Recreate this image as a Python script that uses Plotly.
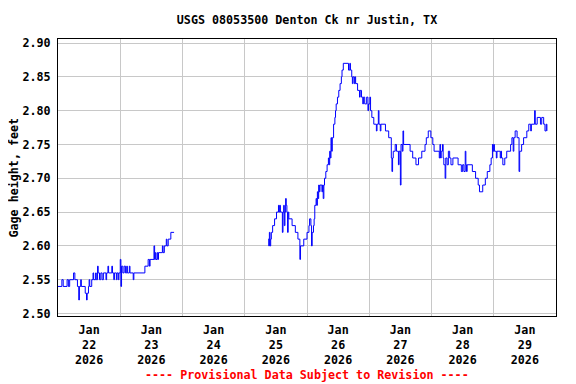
import pandas as pd
import plotly.graph_objects as go

# ---- data (hours after 2026-01-22 00:00, gage height in feet) ----
start_time = "2026-01-22 00:00"

seg1_hours = [0, 1.5, 2.0, 3.5, 4.0, 4.5, 6.0, 6.5, 7.5, 8.0,
              8.25, 8.75, 9.0, 10.5, 11.0, 11.25, 11.75, 12.0, 12.25, 13.0,
              13.5, 13.75, 14.5, 14.75, 15.25, 15.5, 16.0, 16.5, 17.0, 17.5,
              18.5, 18.75, 19.25, 19.5, 20.75, 21.0, 21.5, 21.75, 22.5, 22.75,
              23.25, 23.5, 24.0, 24.25, 24.5, 25.0, 25.5, 26.0, 26.5, 26.75,
              27.5, 27.75, 29.0, 29.25, 33.5, 34.75, 35.25, 35.5, 37.0, 37.25,
              37.5, 37.75, 38.25, 38.5, 38.75, 40.25, 40.5, 41.0, 41.75, 42.0,
              42.5, 43.5, 44.75]
seg1_values = [2.54, 2.55, 2.54, 2.55, 2.54, 2.55, 2.56, 2.55, 2.54, 2.52,
               2.54, 2.55, 2.54, 2.53, 2.52, 2.53, 2.54, 2.55, 2.54, 2.55,
               2.56, 2.55, 2.56, 2.55, 2.57, 2.56, 2.55, 2.56, 2.55, 2.56,
               2.55, 2.56, 2.57, 2.56, 2.57, 2.56, 2.55, 2.56, 2.55, 2.56,
               2.55, 2.56, 2.58, 2.54, 2.57, 2.56, 2.57, 2.56, 2.57, 2.56,
               2.57, 2.56, 2.55, 2.56, 2.57, 2.58, 2.57, 2.58, 2.60, 2.58,
               2.59, 2.58, 2.59, 2.58, 2.59, 2.60, 2.59, 2.60, 2.61, 2.60,
               2.61, 2.62, 2.62]

seg2_hours = [81.0, 81.25, 81.5, 81.75, 82.0, 82.25, 82.75, 83.5, 84.25, 85.0,
              85.25, 85.5, 85.75, 86.5, 86.75, 87.0, 87.25, 87.5, 87.75, 88.0,
              88.25, 88.5, 88.75, 89.0, 90.25, 91.5, 92.5, 93.25, 93.5, 94.75,
              96.0, 96.75, 97.0, 97.5, 97.75, 98.0, 98.5, 98.75, 99.0, 99.5,
              99.75, 100.0, 100.25, 100.5, 100.75, 101.0, 101.75, 102.0, 102.25, 102.5,
              102.75, 103.25, 103.75, 104.25, 104.5, 104.75, 105.0, 105.25, 105.5, 105.75,
              106.25, 106.75, 107.0, 107.25, 107.75, 108.25, 108.75, 109.25, 109.5, 110.0,
              112.0, 112.5, 112.75, 113.25, 113.5, 113.75, 114.25, 114.5, 114.75, 115.5,
              116.25, 116.5, 117.0, 117.5, 117.75, 118.25, 119.0, 119.5, 119.75, 120.25,
              120.5, 121.0, 121.75, 122.75, 123.0, 123.5, 123.75, 124.25, 124.5, 126.25,
              127.5, 128.5, 128.75, 129.0, 129.25, 130.0, 130.5, 131.25, 131.5, 132.0,
              132.25, 132.75, 133.0, 133.25, 135.75, 136.75, 138.0, 139.0, 140.25, 141.5,
              142.0, 142.75, 143.75, 144.5, 145.0, 147.0, 147.25, 147.5, 147.75, 148.25,
              148.5, 148.75, 149.25, 149.5, 150.0, 150.5, 151.0, 151.5, 152.25, 154.25,
              155.5, 156.0, 156.5, 157.0, 157.25, 157.5, 157.75, 159.75, 161.0, 162.0,
              162.5, 163.75, 164.75, 165.5, 166.5, 167.0, 167.5, 167.75, 168.0, 168.25,
              169.0, 169.25, 170.5, 170.75, 171.0, 171.5, 172.25, 173.0, 174.5, 175.0,
              175.5, 175.75, 176.25, 177.0, 177.75, 178.0, 178.75, 179.5, 180.75, 181.5,
              182.25, 182.5, 183.75, 184.0, 184.75, 186.0, 186.5, 187.25, 187.75, 188.25,
              188.5]
seg2_values = [2.61, 2.60, 2.62, 2.60, 2.61, 2.62, 2.63, 2.64, 2.65, 2.66,
               2.65, 2.66, 2.65, 2.62, 2.65, 2.66, 2.63, 2.65, 2.67, 2.66,
               2.65, 2.62, 2.65, 2.64, 2.63, 2.62, 2.61, 2.58, 2.60, 2.61,
               2.62, 2.63, 2.64, 2.63, 2.60, 2.62, 2.63, 2.64, 2.66, 2.67,
               2.66, 2.68, 2.67, 2.69, 2.68, 2.69, 2.68, 2.69, 2.67, 2.69,
               2.70, 2.71, 2.72, 2.73, 2.72, 2.74, 2.73, 2.76, 2.74, 2.76,
               2.78, 2.79, 2.80, 2.81, 2.82, 2.83, 2.84, 2.85, 2.86, 2.87,
               2.86, 2.87, 2.86, 2.85, 2.84, 2.85, 2.84, 2.85, 2.84, 2.83,
               2.82, 2.83, 2.82, 2.81, 2.82, 2.81, 2.82, 2.80, 2.81, 2.82,
               2.80, 2.79, 2.78, 2.77, 2.78, 2.80, 2.78, 2.77, 2.78, 2.77,
               2.76, 2.73, 2.71, 2.73, 2.74, 2.75, 2.74, 2.72, 2.74, 2.69,
               2.75, 2.74, 2.77, 2.75, 2.74, 2.73, 2.72, 2.73, 2.74, 2.75,
               2.76, 2.77, 2.76, 2.75, 2.74, 2.73, 2.75, 2.73, 2.74, 2.75,
               2.73, 2.72, 2.70, 2.73, 2.72, 2.74, 2.73, 2.72, 2.73, 2.72,
               2.71, 2.72, 2.71, 2.74, 2.72, 2.71, 2.72, 2.71, 2.70, 2.69,
               2.68, 2.69, 2.70, 2.71, 2.72, 2.73, 2.75, 2.74, 2.75, 2.74,
               2.73, 2.74, 2.73, 2.74, 2.73, 2.72, 2.73, 2.74, 2.75, 2.76,
               2.74, 2.76, 2.77, 2.76, 2.71, 2.74, 2.75, 2.76, 2.77, 2.78,
               2.77, 2.78, 2.80, 2.78, 2.79, 2.78, 2.79, 2.78, 2.77, 2.78,
               2.77]

assert len(seg1_hours) == len(seg1_values)
assert len(seg2_hours) == len(seg2_values)

title_text = "USGS 08053500 Denton Ck nr Justin, TX"
y_title = "Gage height, feet"
footer_text = "---- Provisional Data Subject to Revision ----"
x_start = "2026-01-22 00:00"
x_end = "2026-01-30 00:00"

t0 = pd.Timestamp(start_time)
def to_times(hours):
    return [t0 + pd.Timedelta(hours=h) for h in hours]

# The page body has an 8px default margin; size the figure to compensate.
OFF = 8
FIG_W, FIG_H = 576 - OFF, 384 - OFF
PL, PR, PT, PB = 58, 556, 39, 316   # plot frame in window pixels

FONT = "DejaVu Sans Mono"
fig = go.Figure()
for hrs, vals in [(seg1_hours, seg1_values), (seg2_hours, seg2_values)]:
    fig.add_trace(go.Scatter(x=to_times(hrs), y=vals, mode="lines",
                             line=dict(color="#0000ff", width=1, shape="hv"),
                             showlegend=False, hoverinfo="skip"))

fig.update_layout(
    width=FIG_W, height=FIG_H,
    margin=dict(l=PL - OFF, r=FIG_W - (PR - OFF), t=PT - OFF, b=FIG_H - (PB - OFF)),
    paper_bgcolor="white", plot_bgcolor="white",
    font=dict(family=FONT, size=11.7, color="black", weight="bold"),
    title=dict(text=title_text, x=(307 - OFF) / FIG_W, xanchor="center", xref="container",
               y=1 - (20 - OFF) / FIG_H, yanchor="middle", yref="container",
               font=dict(family=FONT, size=11.7, color="black", weight="bold")),
    showlegend=False,
)
fig.update_xaxes(
    type="date", range=[x_start, x_end],
    dtick=86400000, tick0=x_start, ticklabelmode="period",
    tickformat="%b<br>%d<br>%Y",
    showgrid=True, gridcolor="#c8c8c8", gridwidth=1,
    showline=True, linecolor="black", linewidth=1, mirror=True,
    ticks="", zeroline=False, ticklabelstandoff=3,
)
fig.update_yaxes(
    range=[2.4963, 2.906], dtick=0.05, tick0=2.5, tickformat=".2f",
    showgrid=True, gridcolor="#c8c8c8", gridwidth=1,
    showline=True, linecolor="black", linewidth=1, mirror=True,
    ticks="", zeroline=False, ticklabelstandoff=4,
)
pw, ph = PR - PL, PB - PT
fig.add_annotation(text=y_title, textangle=-90, xref="paper", yref="paper",
                   x=(13 - PL) / pw, y=0.5, xanchor="center", yanchor="middle",
                   showarrow=False, font=dict(family=FONT, size=11.7, color="black", weight="bold"))
fig.add_annotation(text=footer_text, xref="paper", yref="paper",
                   x=(307 - PL) / pw, y=(PB - 375) / ph, xanchor="center", yanchor="middle",
                   showarrow=False, font=dict(family=FONT, size=11.7, color="#ff0000", weight="bold"))

fig.write_html("out.html")
